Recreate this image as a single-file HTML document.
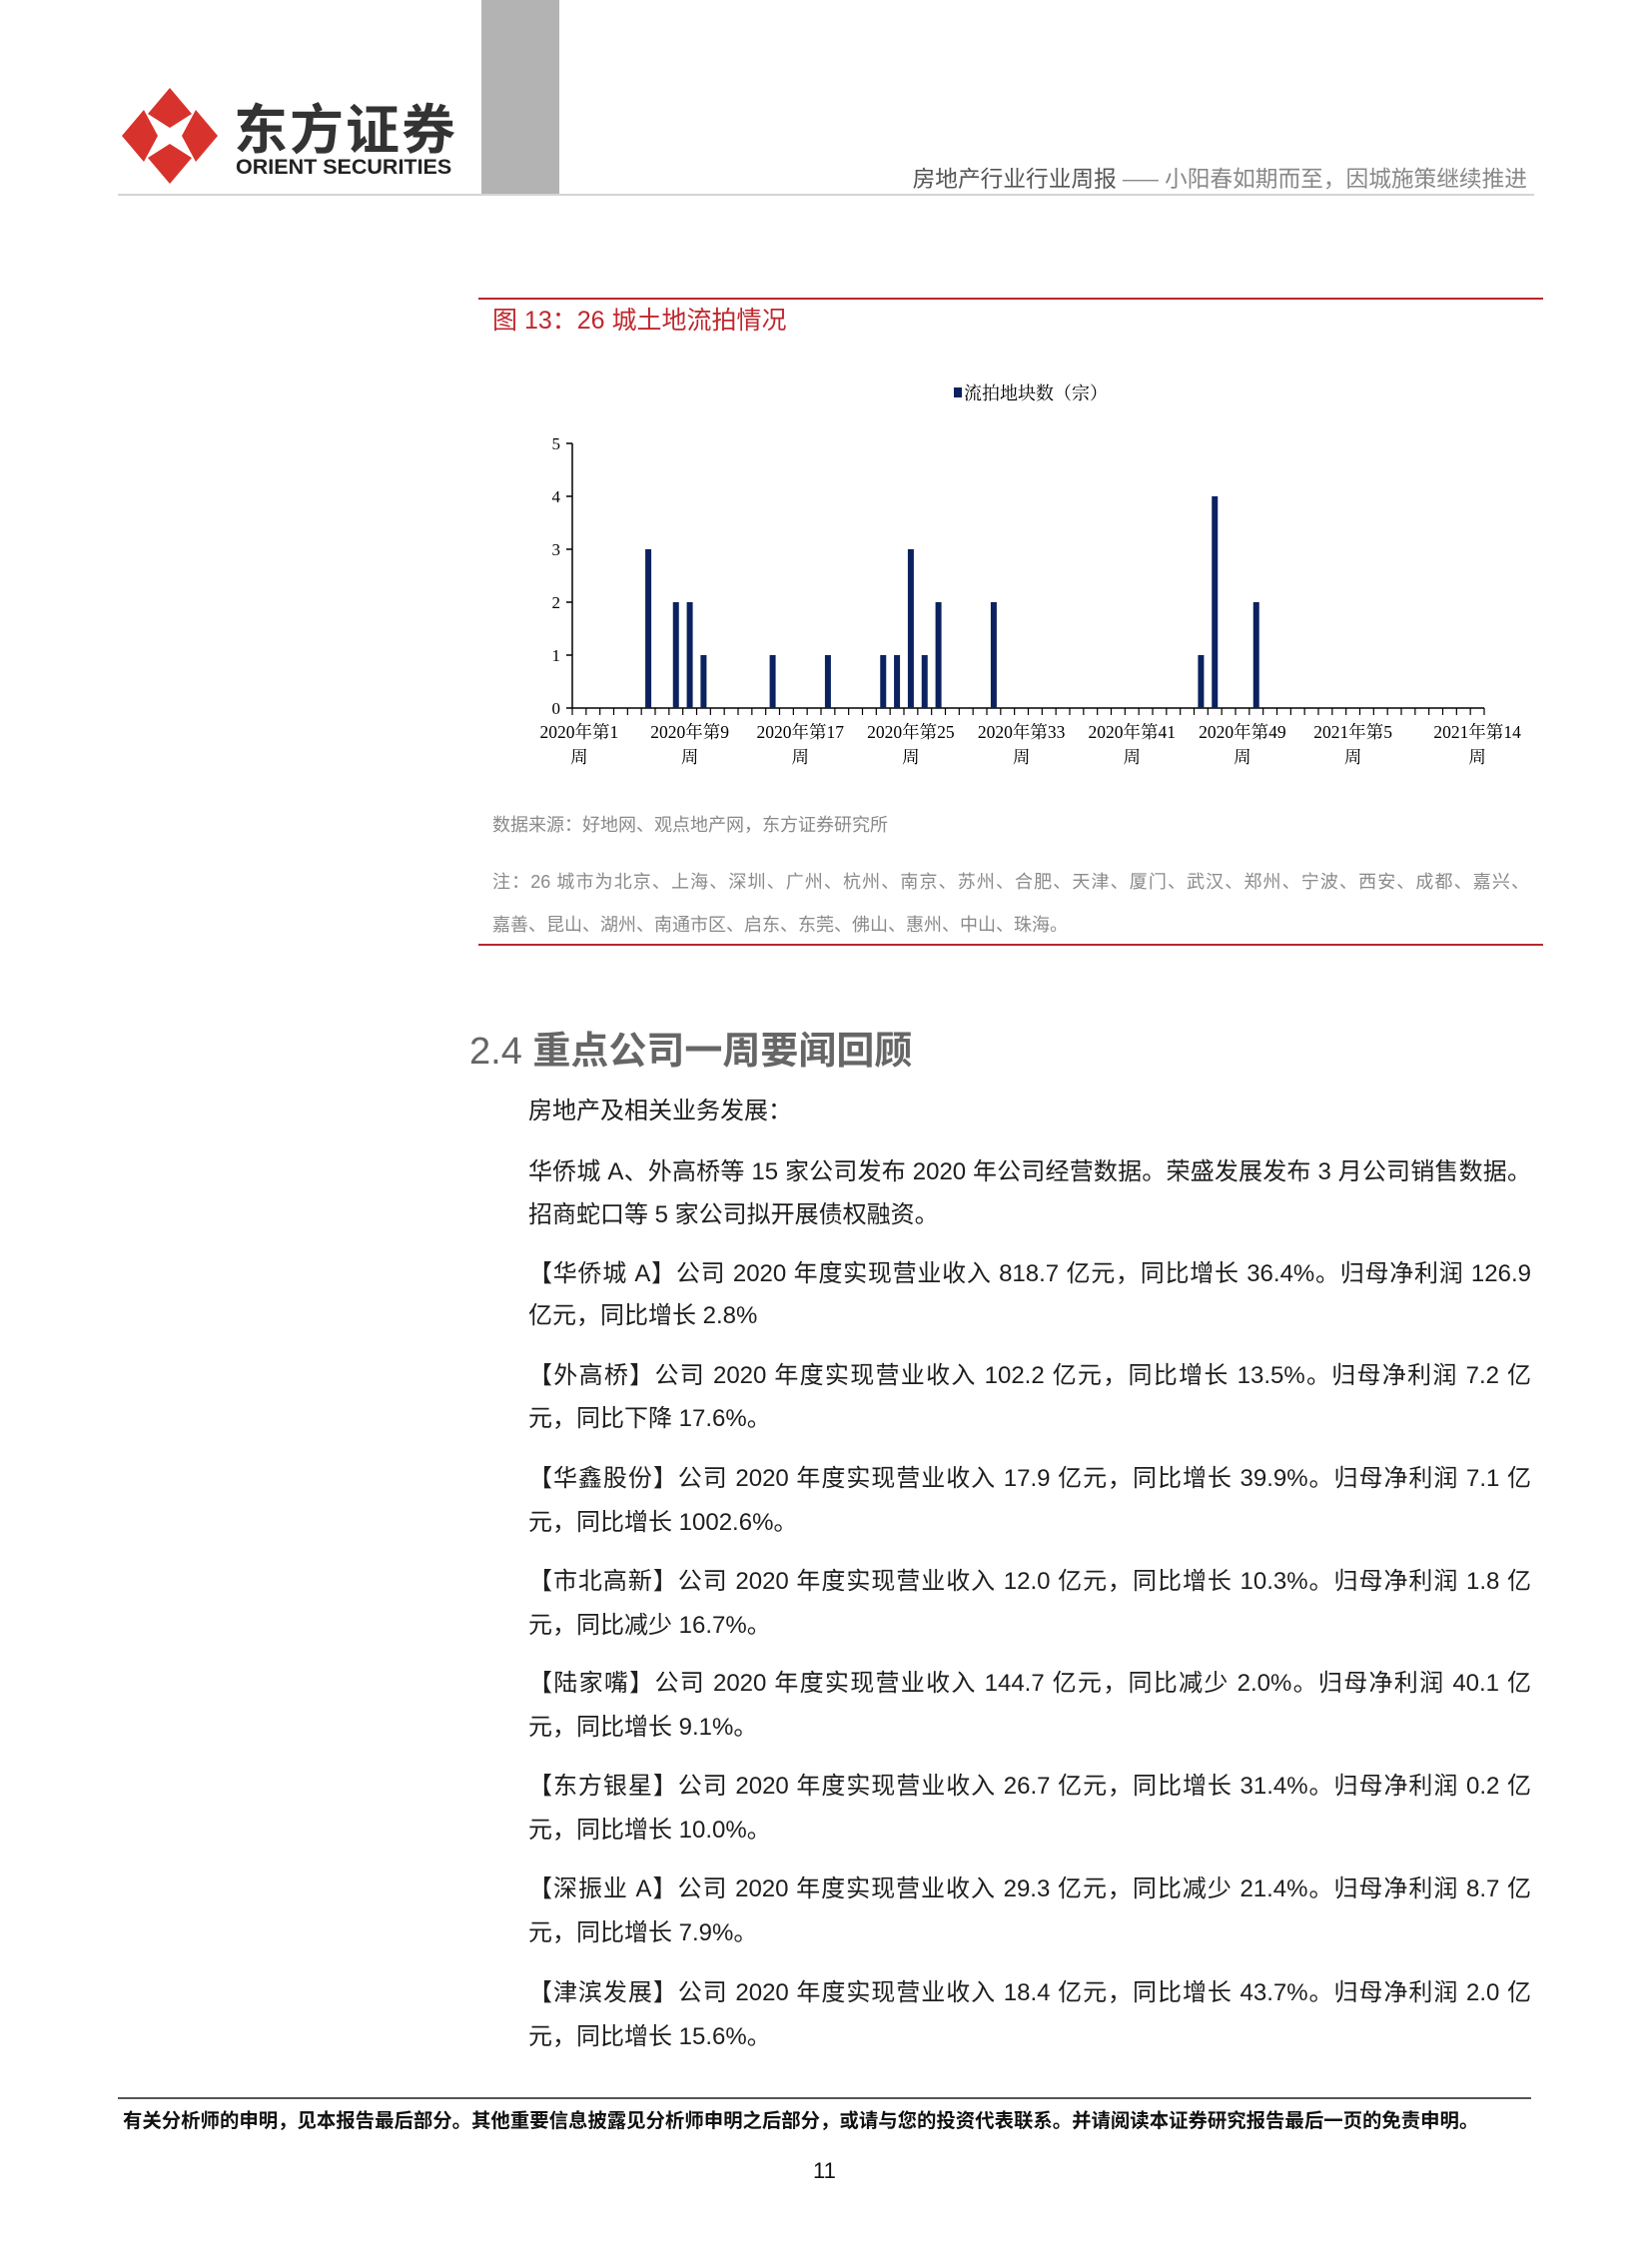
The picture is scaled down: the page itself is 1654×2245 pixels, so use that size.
<!DOCTYPE html>
<html><head><meta charset="utf-8">
<style>
html,body{margin:0;padding:0;background:#fff;}
body{width:1654px;height:2245px;position:relative;overflow:hidden;font-family:"Liberation Sans","Noto Sans CJK SC",sans-serif;}
.abs{position:absolute;white-space:nowrap;}
.body-line{position:absolute;left:529px;width:1004px;font-size:24px;color:#1e1e1e;line-height:30px;white-space:nowrap;}
.just{text-align:justify;text-align-last:justify;}
</style></head>
<body>
<svg class="abs" style="left:122px;top:88px" width="96" height="96" viewBox="0 0 96 96">
  <polygon points="48,0 70,26 48,40 26,26" fill="#d7332c"/>
  <polygon points="48,96 70,70 48,56 26,70" fill="#d7332c"/>
  <polygon points="0,48 22,22 36,48 22,74" fill="#d7332c"/>
  <polygon points="96,48 74,22 60,48 74,74" fill="#d7332c"/>
</svg>
<div class="abs" style="left:234px;top:95px;font-size:54px;font-weight:bold;color:#333;letter-spacing:2px;font-family:'Noto Sans CJK SC',sans-serif;line-height:62px">东方证券</div>
<div class="abs" style="left:236px;top:155px;font-size:21.5px;font-weight:bold;color:#222;line-height:24px">ORIENT SECURITIES</div>
<div class="abs" style="left:482px;top:0;width:78px;height:195px;background:#b3b3b3"></div>
<div class="abs" style="left:118px;top:194px;width:1418px;height:2px;background:#d4d4d4"></div>
<div class="abs" style="right:125px;top:163px;font-size:22.7px;line-height:30px;font-family:'Noto Sans CJK SC',sans-serif"><span style="color:#555">房地产行业行业周报</span><span style="color:#888"> —— 小阳春如期而至，因城施策继续推进</span></div>

<div class="abs" style="left:479px;top:298px;width:1066px;height:2px;background:#b8282e"></div>
<div class="abs" style="left:493px;top:305px;font-size:25px;color:#c0272d;line-height:32px">图 13：26 城土地流拍情况</div>

<svg class="abs" id="chart" style="left:0;top:0" width="1654" height="800"></svg>

<div class="abs" style="left:493px;top:813px;font-size:18px;color:#8a8a8a;line-height:26px">数据来源：好地网、观点地产网，东方证券研究所</div>
<div class="abs" style="left:493px;top:870px;font-size:18px;color:#8a8a8a;line-height:26px;width:1038px;text-align:justify;text-align-last:justify">注：26 城市为北京、上海、深圳、广州、杭州、南京、苏州、合肥、天津、厦门、武汉、郑州、宁波、西安、成都、嘉兴、</div>
<div class="abs" style="left:493px;top:913px;font-size:18px;color:#8a8a8a;line-height:26px">嘉善、昆山、湖州、南通市区、启东、东莞、佛山、惠州、中山、珠海。</div>
<div class="abs" style="left:479px;top:945px;width:1066px;height:2px;background:#b8282e"></div>

<div class="abs" style="left:470px;top:1029px;font-size:38px;color:#666;line-height:48px"><span>2.4 </span><span style="font-weight:bold">重点公司一周要闻回顾</span></div>

<div class="body-line" style="top:1098px">房地产及相关业务发展：</div>
<div class="body-line just" style="top:1159px">华侨城 A、外高桥等 15 家公司发布 2020 年公司经营数据。荣盛发展发布 3 月公司销售数据。</div>
<div class="body-line" style="top:1202px">招商蛇口等 5 家公司拟开展债权融资。</div>
<div class="body-line just" style="top:1261px">【华侨城 A】公司 2020 年度实现营业收入 818.7 亿元，同比增长 36.4%。归母净利润 126.9</div>
<div class="body-line" style="top:1303px">亿元，同比增长 2.8%</div>
<div class="body-line just" style="top:1363px">【外高桥】公司 2020 年度实现营业收入 102.2 亿元，同比增长 13.5%。归母净利润 7.2 亿</div>
<div class="body-line" style="top:1406px">元，同比下降 17.6%。</div>
<div class="body-line just" style="top:1466px">【华鑫股份】公司 2020 年度实现营业收入 17.9 亿元，同比增长 39.9%。归母净利润 7.1 亿</div>
<div class="body-line" style="top:1510px">元，同比增长 1002.6%。</div>
<div class="body-line just" style="top:1569px">【市北高新】公司 2020 年度实现营业收入 12.0 亿元，同比增长 10.3%。归母净利润 1.8 亿</div>
<div class="body-line" style="top:1613px">元，同比减少 16.7%。</div>
<div class="body-line just" style="top:1671px">【陆家嘴】公司 2020 年度实现营业收入 144.7 亿元，同比减少 2.0%。归母净利润 40.1 亿</div>
<div class="body-line" style="top:1715px">元，同比增长 9.1%。</div>
<div class="body-line just" style="top:1774px">【东方银星】公司 2020 年度实现营业收入 26.7 亿元，同比增长 31.4%。归母净利润 0.2 亿</div>
<div class="body-line" style="top:1818px">元，同比增长 10.0%。</div>
<div class="body-line just" style="top:1877px">【深振业 A】公司 2020 年度实现营业收入 29.3 亿元，同比减少 21.4%。归母净利润 8.7 亿</div>
<div class="body-line" style="top:1921px">元，同比增长 7.9%。</div>
<div class="body-line just" style="top:1981px">【津滨发展】公司 2020 年度实现营业收入 18.4 亿元，同比增长 43.7%。归母净利润 2.0 亿</div>
<div class="body-line" style="top:2025px">元，同比增长 15.6%。</div>

<div class="abs" style="left:118px;top:2100px;width:1415px;height:2px;background:#555"></div>
<div class="abs" style="left:123px;top:2111px;font-size:19.4px;font-weight:bold;color:#111;line-height:26px">有关分析师的申明，见本报告最后部分。其他重要信息披露见分析师申明之后部分，或请与您的投资代表联系。并请阅读本证券研究报告最后一页的免责申明。</div>
<div class="abs" style="left:814px;top:2160px;font-size:22px;color:#111;line-height:28px">11</div>

<script>
var categories = [];
for (var i = 1; i <= 52; i++) categories.push('2020年第' + i + '周');
for (var j = 1; j <= 14; j++) categories.push('2021年第' + j + '周');
var values = [0,0,0,0,0,3,0,2,2,1, 0,0,0,0,1,0,0,0,1,0, 0,0,1,1,3,1,2,0,0,0, 2,0,0,0,0,0,0,0,0,0, 0,0,0,0,0,1,4,0,0,2, 0,0,0,0,0,0,0,0,0,0, 0,0,0,0,0,0];
var yTicks = [0,1,2,3,4,5];
var labelIdx = [0,8,16,24,32,40,48,56,65];
var labelTop = ['2020年第1','2020年第9','2020年第17','2020年第25','2020年第33','2020年第41','2020年第49','2021年第5','2021年第14'];
var seriesName = '流拍地块数（宗）';

var NS = 'http://www.w3.org/2000/svg';
var svg = document.getElementById('chart');
var X0 = 573, X1 = 1486, Y0 = 709, YTOP = 444, YMAX = 5;
var bw = (X1 - X0) / categories.length;
function xScale(i){ return X0 + bw * (i + 0.5); }
function yScale(v){ return Y0 - (Y0 - YTOP) * v / YMAX; }
function mk(tag, attrs){ var e = document.createElementNS(NS, tag); for (var k in attrs) e.setAttribute(k, attrs[k]); svg.appendChild(e); return e; }

var ya = mk('line', {x1:X0, y1:YTOP, x2:X0, y2:Y0, stroke:'#000', 'stroke-width':1.5});


var xa = mk('line', {x1:X0, y1:Y0, x2:X1, y2:Y0, stroke:'#000', 'stroke-width':1.5});



yTicks.forEach(function(t){
  var y = yScale(t);
  var tk = mk('line', {x1:X0-6, y1:y, x2:X0, y2:y, stroke:'#000', 'stroke-width':1.5});
  
  
  var tx = mk('text', {x:X0-12, y:y+6, 'text-anchor':'end', 'font-size':17, 'font-family':'Liberation Serif, serif', fill:'#000'});
  tx.textContent = t;
  
  
});
for (var c = 0; c <= categories.length; c++) {
  var xx = X0 + bw * c;
  var tc = mk('line', {x1:xx, y1:Y0, x2:xx, y2:Y0+7, stroke:'#000', 'stroke-width':1.2});
  
  
}
values.forEach(function(v, i){
  if (v <= 0) return;
  var b = mk('rect', {x:xScale(i)-3, y:yScale(v), width:6, height:Y0-yScale(v), fill:'#0b2160'});
  
  
});
labelIdx.forEach(function(idx, k){
  var cx = xScale(idx);
  var t1 = mk('text', {x:cx, y:739, 'text-anchor':'middle', 'font-size':17.5, 'font-family':'Liberation Serif, Noto Serif CJK SC, serif', fill:'#000'});
  t1.textContent = labelTop[k];
  
  
  var t2 = mk('text', {x:cx, y:764, 'text-anchor':'middle', 'font-size':17.5, 'font-family':'Noto Serif CJK SC, serif', fill:'#000'});
  t2.textContent = '周';
  
  
});
var lg = mk('rect', {x:955, y:388, width:8, height:10, fill:'#0b2160'});


var lt = mk('text', {x:965, y:400, 'font-size':18, 'font-family':'Noto Serif CJK SC, serif', fill:'#000'});
lt.textContent = seriesName;


</script>
</body></html>
